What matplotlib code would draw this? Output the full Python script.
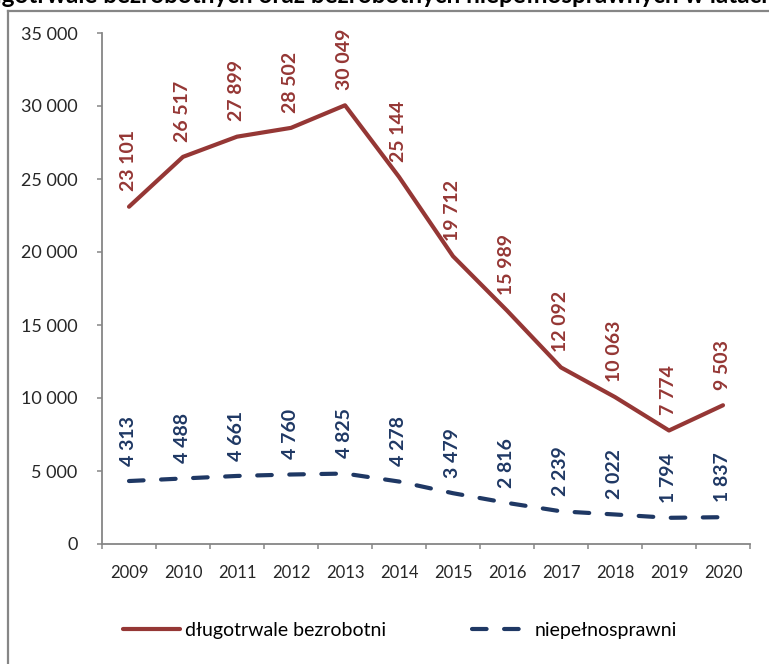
import matplotlib.pyplot as plt
from matplotlib.lines import Line2D
from matplotlib.ticker import FuncFormatter, MultipleLocator, FixedLocator

plt.rcParams['font.family'] = ['Lato', 'DejaVu Sans']

# dane
years = ['2009', '2010', '2011', '2012', '2013', '2014', '2015', '2016', '2017', '2018', '2019', '2020']
dlugotrwale = [23101, 26517, 27899, 28502, 30049, 25144, 19712, 15989, 12092, 10063, 7774, 9503]
niepelnosprawni = [4313, 4488, 4661, 4760, 4825, 4278, 3479, 2816, 2239, 2022, 1794, 1837]

red = '#953735'
navy = '#1F3864'
grey = '#868686'

def fmt(v, pos=None):
    return f'{int(v):,}'.replace(',', ' ')

fig = plt.figure(figsize=(7.69, 6.64), dpi=100)
ax = fig.add_axes([102 / 769, 120 / 664, 648 / 769, 511 / 664])

x = list(range(len(years)))
ax.plot(x, dlugotrwale, color=red, lw=3.0, solid_capstyle='round', solid_joinstyle='round',
        label='długotrwale bezrobotni')
ax.plot(x, niepelnosprawni, color=navy, lw=3.0, linestyle=(0, (3.5, 4.2)),
        dash_capstyle='round', label='niepełnosprawni')

# etykiety danych
for xi, v in zip(x, dlugotrwale):
    ax.annotate(fmt(v), (xi, v), xytext=(0, 11), textcoords='offset points',
                rotation=90, ha='center', va='bottom', color=red,
                fontsize=14, fontweight='bold')
for xi, v in zip(x, niepelnosprawni):
    ax.annotate(fmt(v), (xi, v), xytext=(0, 11), textcoords='offset points',
                rotation=90, ha='center', va='bottom', color=navy,
                fontsize=14, fontweight='bold')

ax.set_xlim(-0.5, len(years) - 0.5)
ax.set_ylim(0, 35000)
ax.yaxis.set_major_locator(MultipleLocator(5000))
ax.yaxis.set_major_formatter(FuncFormatter(fmt))

ax.xaxis.set_major_locator(FixedLocator([i - 0.5 for i in range(len(years) + 1)]))
ax.xaxis.set_major_formatter(FuncFormatter(lambda v, p: ''))
ax.xaxis.set_minor_locator(FixedLocator(x))
ax.set_xticklabels(years, minor=True)

for s in ['top', 'right']:
    ax.spines[s].set_visible(False)
for s in ['left', 'bottom']:
    ax.spines[s].set_color(grey)
    ax.spines[s].set_linewidth(1.3)

ax.tick_params(axis='y', length=3.6, width=1.1, color=grey, pad=14,
               labelsize=13, labelcolor='#262626')
ax.tick_params(axis='x', which='major', length=3.6, width=1.1, color=grey, direction='out')
ax.tick_params(axis='x', which='minor', length=0, pad=15, labelsize=12, labelcolor='#262626')

fig.legend(loc='center', bbox_to_anchor=(0.52, 0.05), ncol=2, frameon=False,
           handlelength=2.9, columnspacing=4.4, handletextpad=0.3, fontsize=14)

# ramka wykresu
fig.add_artist(Line2D([8 / 769, 8 / 769], [-0.01, 1 - 11 / 664], color=grey, lw=1.6))
fig.add_artist(Line2D([8 / 769, 1.01], [1 - 11 / 664, 1 - 11 / 664], color=grey, lw=1.6))

# przycięty tytuł
fig.text(-34 / 769, 1 - 3 / 664, 'długotrwale bezrobotnych oraz bezrobotnych niepełnosprawnych w latach 2009–2020',
         ha='left', va='baseline', fontsize=17.5, fontweight='bold', color='black')

fig.savefig('out.png', dpi=100)
